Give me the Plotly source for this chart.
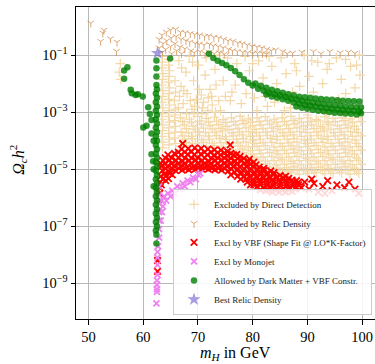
import plotly.graph_objects as go

# ---- data: [m_H in GeV, log10(Omega h^2)] ----
wheat_pts = [
    [55.8, -1.3], [55.6, -1.6], [55.9, -1.85],
    [63.5, -1.05], [63.5, -1.25], [63.4, -1.45], [63.6, -1.65], [63.5, -1.85], [63.4, -2.05], [63.6, -2.25],
    [63.5, -2.45], [63.4, -2.65], [63.6, -2.85], [63.5, -3.05], [63.4, -3.25], [63.6, -3.45], [63.5, -3.65],
    [63.4, -3.85], [63.6, -4.05], [63.5, -4.25],
    [64.7, -1.15], [64.6, -1.35], [64.8, -1.55], [64.7, -1.75], [64.6, -1.95], [64.8, -2.15], [64.7, -2.35],
    [64.6, -2.55], [64.8, -2.75], [64.7, -2.95], [64.6, -3.15], [64.8, -3.35], [64.7, -3.55], [64.6, -3.75],
    [64.8, -3.95], [64.7, -4.15],
    [65.8, -1.9], [65.9, -2.3], [65.7, -2.6], [65.9, -2.9], [65.8, -3.1], [65.7, -3.3], [65.9, -3.5],
    [65.8, -3.7], [65.7, -3.9], [65.9, -4.1],
    [66.6, -2.45], [67.4, -2.25], [68.6, -2.6], [69.4, -2.8], [70.2, -2.2], [71.0, -2.65], [71.8, -2.95],
    [66.4, -2.85], [67.9, -3.05], [69.3, -3.05], [70.7, -3.05], [72.5, -2.45], [73.2, -3.0],
    [66.5, -1.2], [67.8, -1.6], [66.9, -2.1], [68.4, -1.05], [69.2, -1.9], [70.1, -1.35], [70.6, -2.4],
    [71.3, -1.7], [72.2, -2.2], [73.1, -1.5], [73.8, -2.6], [74.6, -1.9], [75.4, -1.1], [76.2, -2.3],
    [77.1, -1.3], [77.9, -2.7], [78.6, -1.05], [79.4, -1.55], [80.3, -2.5], [81.1, -1.2], [81.9, -1.8],
    [82.7, -2.8], [83.5, -1.4], [84.4, -2.0], [85.2, -1.1], [86.1, -1.65], [86.9, -2.85], [87.7, -1.3],
    [88.6, -2.1], [89.4, -1.0], [90.3, -1.75], [91.1, -2.3], [91.9, -1.25], [92.8, -2.0], [93.6, -1.5],
    [94.5, -2.9], [95.3, -1.1], [96.2, -1.85], [97.0, -2.35], [97.9, -1.4], [98.7, -2.15], [99.5, -1.0],
    [99.6, -1.7], [67.3, -2.7], [68.9, -2.9], [70.8, -2.85], [72.6, -2.75], [74.1, -2.95], [75.9, -2.6],
    [68.0, -2.35], [69.7, -2.55], [71.9, -2.5], [73.3, -2.05], [75.0, -2.45], [76.8, -2.05], [78.8, -2.35],
    [80.8, -2.95], [82.3, -2.45], [84.0, -2.65], [85.8, -2.95], [87.3, -2.3], [89.8, -2.75], [92.2, -2.65],
    [95.7, -2.55], [98.2, -2.9], [67.0, -1.45], [69.0, -1.25], [71.5, -1.1], [74.0, -1.0], [80.0, -1.3],
    [83.0, -1.05], [88.0, -1.55], [90.8, -1.2], [94.0, -1.3], [97.0, -1.15], [99.0, -1.35], [96.5, -3.05],
    [93.5, -3.0], [90.0, -3.1],
    [66.8, -3.2], [68.4, -3.25], [69.9, -3.15], [71.5, -3.22], [73.0, -3.18], [74.6, -3.26], [76.1, -3.2],
    [77.7, -3.14], [79.2, -3.24], [80.8, -3.2], [82.3, -3.16], [83.9, -3.25], [85.4, -3.2], [87.0, -3.15],
    [88.5, -3.23], [90.1, -3.2], [91.6, -3.26], [93.2, -3.17], [94.7, -3.22], [96.3, -3.2], [97.8, -3.24],
    [99.4, -3.18],
    [67.2, -3.33], [68.8, -3.35], [70.3, -3.31], [71.9, -3.34], [73.4, -3.32], [75.0, -3.36], [76.5, -3.33],
    [78.1, -3.3], [79.6, -3.35], [81.2, -3.33], [82.7, -3.31], [84.3, -3.35], [85.8, -3.33], [87.4, -3.3],
    [88.9, -3.35], [90.5, -3.33], [92.0, -3.31], [93.6, -3.35], [95.1, -3.33], [96.7, -3.3], [98.2, -3.35],
    [99.8, -3.33],
    [67.5, -3.45], [69.1, -3.5], [70.6, -3.42], [72.2, -3.47], [73.8, -3.44], [75.3, -3.5], [76.9, -3.45],
    [78.4, -3.4], [80.0, -3.48], [81.5, -3.45], [83.1, -3.42], [84.6, -3.5], [86.2, -3.45], [87.7, -3.41],
    [89.3, -3.48], [90.8, -3.45], [92.4, -3.5], [93.9, -3.43], [95.5, -3.47], [97.0, -3.45], [98.6, -3.5],
    [67.9, -3.58], [69.5, -3.6], [71.0, -3.56], [72.6, -3.59], [74.2, -3.57], [75.7, -3.61], [77.3, -3.58],
    [78.8, -3.55], [80.4, -3.6], [81.9, -3.58], [83.5, -3.56], [85.0, -3.6], [86.6, -3.58], [88.1, -3.55],
    [89.7, -3.6], [91.2, -3.58], [92.8, -3.56], [94.3, -3.6], [95.9, -3.58], [97.4, -3.55], [99.0, -3.6],
    [66.9, -3.7], [68.3, -3.73], [70.0, -3.68], [71.4, -3.72], [73.1, -3.7], [74.5, -3.66], [76.2, -3.73],
    [77.6, -3.7], [79.3, -3.68], [80.7, -3.72], [82.4, -3.7], [83.8, -3.67], [85.5, -3.73], [86.9, -3.7],
    [88.6, -3.68], [90.0, -3.72], [91.7, -3.7], [93.1, -3.66], [94.8, -3.72], [96.2, -3.7], [97.9, -3.68],
    [99.3, -3.72],
    [67.2, -3.83], [68.8, -3.85], [70.3, -3.81], [71.9, -3.84], [73.4, -3.82], [75.0, -3.86], [76.5, -3.83],
    [78.1, -3.8], [79.6, -3.85], [81.2, -3.83], [82.7, -3.81], [84.3, -3.85], [85.8, -3.83], [87.4, -3.8],
    [88.9, -3.85], [90.5, -3.83], [92.0, -3.81], [93.6, -3.85], [95.1, -3.83], [96.7, -3.8], [98.2, -3.85],
    [99.8, -3.83],
    [67.6, -3.95], [69.0, -3.93], [70.7, -3.97], [72.1, -3.95], [73.9, -3.92], [75.2, -3.96], [77.0, -3.95],
    [78.3, -3.93], [80.1, -3.97], [81.4, -3.95], [83.2, -3.92], [84.5, -3.96], [86.3, -3.95], [87.6, -3.93],
    [89.4, -3.97], [90.7, -3.95], [92.5, -3.92], [93.8, -3.96], [95.6, -3.95], [96.9, -3.93], [98.7, -3.97],
    [67.9, -4.08], [69.5, -4.1], [71.0, -4.06], [72.6, -4.09], [74.2, -4.07], [75.7, -4.11], [77.3, -4.08],
    [78.8, -4.05], [80.4, -4.1], [81.9, -4.08], [83.5, -4.06], [85.0, -4.1], [86.6, -4.08], [88.1, -4.05],
    [89.7, -4.1], [91.2, -4.08], [92.8, -4.06], [94.3, -4.1], [95.9, -4.08], [97.4, -4.05], [99.0, -4.1],
    [66.8, -4.2], [68.4, -4.18], [69.9, -4.22], [71.5, -4.2], [73.0, -4.17], [74.6, -4.22], [76.1, -4.2],
    [77.7, -4.18], [79.2, -4.22], [80.8, -4.2], [82.3, -4.17], [83.9, -4.22], [85.4, -4.2], [87.0, -4.18],
    [88.5, -4.22], [90.1, -4.2], [91.6, -4.17], [93.2, -4.22], [94.7, -4.2], [96.3, -4.18], [97.8, -4.22],
    [99.4, -4.2],
    [76.5, -4.33], [78.1, -4.3], [79.6, -4.35], [81.2, -4.33], [82.7, -4.31], [84.3, -4.35], [85.8, -4.33],
    [87.4, -4.3], [88.9, -4.35], [90.5, -4.33], [92.0, -4.31], [93.6, -4.35], [95.1, -4.33], [96.7, -4.3],
    [98.2, -4.35], [99.8, -4.33],
    [76.9, -4.45], [78.4, -4.43], [80.0, -4.47], [81.5, -4.45], [83.1, -4.42], [84.6, -4.46], [86.2, -4.45],
    [87.7, -4.43], [89.3, -4.47], [90.8, -4.45], [92.4, -4.42], [93.9, -4.46], [95.5, -4.45], [97.0, -4.43],
    [98.6, -4.47],
    [78.8, -4.58], [80.4, -4.6], [81.9, -4.58], [83.5, -4.56], [85.0, -4.6], [86.6, -4.58], [88.1, -4.55],
    [89.7, -4.6], [91.2, -4.58], [92.8, -4.56], [94.3, -4.6], [95.9, -4.58], [97.4, -4.55], [99.0, -4.6],
    [79.2, -4.7], [80.8, -4.68], [82.3, -4.72], [83.9, -4.7], [85.4, -4.67], [87.0, -4.72], [88.5, -4.7],
    [90.1, -4.68], [91.6, -4.72], [93.2, -4.7], [94.7, -4.67], [96.3, -4.72], [97.8, -4.7], [99.4, -4.68],
    [81.2, -4.83], [82.7, -4.81], [84.3, -4.85], [85.8, -4.83], [87.4, -4.8], [88.9, -4.85], [90.5, -4.83],
    [92.0, -4.81], [93.6, -4.85], [95.1, -4.83], [96.7, -4.8], [98.2, -4.85], [99.8, -4.83],
    [81.5, -4.95], [83.1, -4.93], [84.6, -4.97], [86.2, -4.95], [87.7, -4.92], [89.3, -4.96], [90.8, -4.95],
    [92.4, -4.93], [93.9, -4.97], [95.5, -4.95], [97.0, -4.92], [98.6, -4.96],
    [85.0, -5.05], [86.6, -5.06], [88.1, -5.04], [89.7, -5.06], [91.2, -5.05], [92.8, -5.04], [94.3, -5.06],
    [95.9, -5.05], [97.4, -5.04], [99.0, -5.06],
    [85.4, -5.15], [87.0, -5.13], [88.5, -5.17], [90.1, -5.15], [91.6, -5.12], [93.2, -5.16], [94.7, -5.15],
    [96.3, -5.13], [97.8, -5.17], [99.4, -5.15],
]

relic_pts = [
    [50.4, 0.12], [52.6, -0.23], [52.8, -0.13], [52.2, -0.52], [54.0, -0.43], [55.2, -0.55], [55.1, -0.87],
    [62.9, -0.45], [62.9, -0.75], [63.4, -0.3], [63.6, -0.6], [63.5, -0.9],
    [64.2, -0.2], [64.3, -0.5], [64.1, -0.8],
    [65.0, -0.12], [65.1, -0.4], [65.0, -0.7], [65.2, -0.95],
    [65.9, -0.1], [66.0, -0.35], [65.8, -0.6], [66.1, -0.85],
    [66.8, -0.2], [66.9, -0.45], [66.7, -0.72], [67.0, -0.95],
    [67.7, -0.22], [67.8, -0.5], [67.6, -0.78],
    [68.6, -0.25], [68.5, -0.55], [68.7, -0.85],
    [69.4, -0.28], [69.5, -0.6], [69.3, -0.92],
    [70.3, -0.3], [70.2, -0.62], [70.4, -0.88],
    [71.2, -0.35], [71.1, -0.65], [71.3, -0.95],
    [72.0, -0.33], [72.1, -0.62], [72.0, -0.9],
    [72.9, -0.38], [72.8, -0.68], [73.0, -0.95],
    [73.8, -0.4], [73.7, -0.7], [73.9, -0.92],
    [74.7, -0.45], [74.6, -0.75], [74.8, -0.97],
    [75.5, -0.5], [75.6, -0.8], [76.4, -0.52], [76.3, -0.85],
    [77.3, -0.58], [77.2, -0.88], [78.1, -0.6], [78.2, -0.9],
    [79.0, -0.65], [79.1, -0.92], [79.9, -0.7], [80.0, -0.95],
    [80.8, -0.72], [80.9, -0.93], [81.7, -0.75], [81.8, -0.95],
    [82.6, -0.8], [82.5, -0.97], [83.4, -0.85],
    [84.2, -0.82], [85.5, -0.88], [86.3, -0.95], [87.3, -0.93], [89.0, -0.9], [91.1, -0.88],
    [92.5, -0.95], [94.1, -0.88], [96.0, -0.92], [97.5, -0.9], [98.7, -0.94],
]

vbf_pts = [
    [67.0, -4.3], [68.2, -4.28], [69.4, -4.25], [70.6, -4.27], [71.8, -4.3], [73.0, -4.32], [74.2, -4.33],
    [75.4, -4.38],
    [66.4, -4.4], [67.6, -4.4], [68.8, -4.38], [70.0, -4.37], [71.2, -4.4], [72.4, -4.4], [73.6, -4.42],
    [74.8, -4.43], [76.0, -4.45], [77.1, -4.48],
    [64.5, -4.5], [65.7, -4.45], [66.9, -4.5], [68.1, -4.48], [69.3, -4.5], [70.5, -4.47], [71.7, -4.5],
    [72.9, -4.52], [74.1, -4.5], [75.3, -4.53], [76.5, -4.5], [77.7, -4.55],
    [64.0, -4.6], [65.2, -4.6], [66.4, -4.6], [67.6, -4.6], [68.8, -4.6], [70.0, -4.6], [71.2, -4.6],
    [72.4, -4.6], [73.6, -4.6], [74.8, -4.6], [76.0, -4.62], [77.2, -4.62], [78.4, -4.62], [79.4, -4.65],
    [63.6, -4.7], [64.8, -4.68], [66.0, -4.7], [67.2, -4.72], [68.4, -4.7], [69.6, -4.68], [70.8, -4.7],
    [72.0, -4.73], [73.2, -4.7], [74.4, -4.68], [75.6, -4.7], [76.8, -4.72], [78.0, -4.7], [79.2, -4.73],
    [80.2, -4.75],
    [63.2, -4.8], [64.0, -4.8], [65.2, -4.8], [66.4, -4.8], [67.6, -4.8], [68.8, -4.8], [70.0, -4.8],
    [71.2, -4.8], [72.4, -4.8], [73.6, -4.8], [74.8, -4.8], [76.0, -4.8], [77.2, -4.8], [78.4, -4.8],
    [79.6, -4.82], [80.6, -4.85],
    [63.3, -4.9], [64.4, -4.9], [65.6, -4.88], [66.8, -4.9], [68.0, -4.92], [69.2, -4.9], [70.4, -4.88],
    [71.6, -4.9], [72.8, -4.92], [74.0, -4.9], [75.2, -4.88], [76.4, -4.9], [77.6, -4.92], [78.8, -4.9],
    [80.0, -4.9], [81.2, -4.93], [82.0, -4.97],
    [64.1, -4.98], [65.3, -4.98], [66.5, -4.97], [67.7, -4.97], [68.9, -4.96], [70.1, -4.95], [71.3, -4.95],
    [72.5, -4.96], [73.7, -4.97], [74.9, -4.98], [76.1, -5.0], [77.3, -5.0], [78.5, -5.0], [79.7, -5.0],
    [80.9, -5.02], [82.1, -5.04], [83.3, -5.06],
    [63.5, -5.05], [64.7, -5.07], [65.9, -5.05], [67.1, -5.03], [68.3, -5.02], [69.5, -5.0], [70.7, -5.0],
    [71.9, -5.0], [73.1, -5.02], [74.3, -5.03], [75.5, -5.07], [76.7, -5.1], [77.9, -5.1], [79.1, -5.1],
    [80.3, -5.1], [81.5, -5.1], [82.7, -5.12], [83.9, -5.12],
    [63.8, -5.17], [64.9, -5.15], [77.8, -5.17], [79.0, -5.18], [80.2, -5.18], [81.4, -5.2], [82.6, -5.2],
    [83.8, -5.2], [85.0, -5.22], [86.0, -5.25],
    [63.2, -5.25], [64.2, -5.22], [65.3, -5.2], [76.0, -5.2], [77.2, -5.25], [78.4, -5.27], [79.6, -5.27],
    [80.8, -5.27], [82.0, -5.28], [83.2, -5.28], [84.4, -5.28], [85.6, -5.3], [86.6, -5.32],
    [63.6, -5.35], [64.6, -5.33], [78.8, -5.35], [80.0, -5.36], [81.2, -5.37], [82.4, -5.37], [83.6, -5.37],
    [84.8, -5.38], [86.0, -5.38], [87.2, -5.38], [88.0, -5.4],
    [63.1, -5.45], [64.1, -5.4], [77.8, -5.35], [79.0, -5.45], [80.2, -5.45], [81.4, -5.45], [82.6, -5.45],
    [83.8, -5.47], [85.0, -5.47], [86.2, -5.47], [87.4, -5.45], [88.4, -5.45],
    [63.3, -5.55], [80.2, -5.55], [81.4, -5.55], [82.6, -5.56], [83.8, -5.57], [85.0, -5.57], [86.2, -5.56],
    [87.4, -5.55], [88.4, -5.55],
    [63.0, -5.65], [79.6, -5.55], [80.8, -5.62], [82.0, -5.65], [83.2, -5.65], [84.4, -5.67], [85.6, -5.67],
    [86.8, -5.65], [88.0, -5.62],
    [81.4, -5.72], [82.8, -5.72], [84.2, -5.74], [85.4, -5.74], [86.6, -5.72], [87.8, -5.7],
    [63.0, -5.85], [82.4, -5.75], [83.6, -5.8], [84.8, -5.8], [86.0, -5.8], [87.2, -5.78],
    [89.5, -5.45], [90.3, -5.7], [91.2, -5.5], [92.0, -5.8], [92.8, -5.6], [93.7, -5.4], [94.5, -5.75],
    [95.4, -5.55], [96.8, -5.65], [97.6, -5.45], [98.7, -5.7], [99.4, -5.85], [90.8, -5.35], [93.2, -5.85],
    [88.9, -5.65],
    [75.9, -4.15], [67.2, -4.1], [63.0, -6.2], [62.6, -8.2], [62.6, -8.58],
]

monojet_pts = [
    [62.9, -5.6], [62.9, -5.9], [62.9, -6.2], [62.9, -6.5], [62.9, -6.8], [62.9, -7.1], [62.9, -7.4],
    [62.7, -7.7], [62.6, -7.9], [62.6, -8.1], [62.6, -8.35], [62.6, -8.7], [62.5, -8.9], [62.5, -9.05],
    [62.5, -9.2], [62.5, -9.3], [62.4, -9.7],
    [63.3, -6.1], [63.6, -6.3], [63.8, -5.95], [64.2, -6.1], [64.5, -5.85], [65.0, -5.95], [65.3, -5.75],
    [65.8, -5.85], [66.2, -5.6], [66.7, -5.7], [67.2, -5.5], [67.6, -5.6], [68.1, -5.4], [68.6, -5.45],
    [69.1, -5.3], [69.6, -5.35], [70.1, -5.2], [70.4, -5.15], [63.4, -6.5], [63.2, -6.8],
]

allowed_pts = [
    [62.4, -1.19], [62.4, -1.46], [62.4, -1.75], [62.4, -2.05], [62.5, -2.2], [62.3, -2.35], [62.5, -2.5],
    [62.3, -2.65], [62.5, -2.8], [62.3, -2.95], [62.5, -3.1], [62.3, -3.25], [62.5, -3.4], [62.3, -3.55],
    [62.5, -3.7], [62.3, -3.85], [62.5, -4.0], [62.3, -4.15], [62.5, -4.3], [62.3, -4.45], [62.5, -4.6],
    [62.3, -4.75], [62.5, -4.9], [62.3, -5.05], [62.5, -5.2], [62.3, -5.35], [62.5, -5.5], [62.3, -5.65],
    [62.5, -5.8], [62.3, -5.95], [62.5, -6.1], [62.3, -6.25], [62.5, -6.4], [62.3, -6.55], [62.5, -6.7],
    [62.3, -6.85], [62.5, -7.0], [62.3, -7.15], [62.4, -7.3], [62.4, -7.6],
    [64.9, -1.12], [57.1, -1.43], [56.5, -1.54], [56.5, -1.83], [57.7, -2.22], [57.9, -2.34], [58.6, -2.40],
    [59.0, -2.37], [59.9, -2.45], [60.9, -2.83], [61.2, -3.07], [61.5, -3.28], [60.0, -3.54], [60.6, -3.48],
    [61.5, -3.75], [61.9, -4.0], [61.5, -4.48], [61.8, -4.72], [61.9, -5.0], [61.9, -5.6],
    [72.0, -0.95], [72.8, -1.1], [73.6, -1.2], [74.4, -1.28], [75.2, -1.36], [76.0, -1.45], [76.8, -1.57],
    [77.6, -1.7], [78.4, -1.85], [79.2, -1.97], [80.0, -2.07], [81.0, -2.18], [82.0, -2.25], [83.0, -2.32],
    [84.0, -2.37], [85.0, -2.42], [86.0, -2.47], [87.0, -2.52], [88.0, -2.56], [89.0, -2.6], [90.0, -2.64],
    [91.0, -2.67], [92.0, -2.7], [93.0, -2.72], [94.0, -2.74], [95.0, -2.76], [96.0, -2.78], [97.0, -2.8],
    [98.0, -2.81], [99.0, -2.83], [99.8, -2.84],
    [80.5, -2.0], [81.5, -2.08], [82.5, -2.15], [83.5, -2.22], [84.5, -2.27], [85.5, -2.32], [86.5, -2.37],
    [87.5, -2.41], [88.5, -2.46], [89.5, -2.48], [90.5, -2.5], [91.5, -2.52], [92.5, -2.54], [93.5, -2.56],
    [94.5, -2.57], [95.5, -2.58], [96.5, -2.6], [97.5, -2.61], [98.5, -2.62], [99.5, -2.63],
    [82.5, -2.38], [83.5, -2.45], [84.5, -2.5], [85.5, -2.55], [86.5, -2.6], [87.5, -2.66], [88.5, -2.7],
    [89.5, -2.74], [90.5, -2.78], [91.5, -2.8], [92.5, -2.84], [93.5, -2.86], [94.5, -2.88], [95.5, -2.9],
    [96.5, -2.92], [97.5, -2.94], [98.5, -2.96], [99.5, -2.98],
    [88.0, -2.8], [89.0, -2.85], [90.0, -2.88], [91.0, -2.92], [92.0, -2.95], [93.0, -2.97], [94.0, -3.0],
    [95.0, -3.02], [96.0, -3.03], [97.0, -3.05], [98.0, -3.06], [99.0, -3.08], [99.8, -3.04],
]

best_pts = [[62.6, -0.93]]

y_tick_exp = [-9, -7, -5, -3, -1]
x_ticks = [50, 60, 70, 80, 90, 100]

names = [
    "Excluded by Direct Detection",
    "Excluded by Relic Density",
    "Excl by VBF (Shape Fit @ LO*K-Factor)",
    "Excl by Monojet",
    "Allowed by Dark Matter + VBF Constr.",
    "Best Relic Density",
]
x_title = "<i>m</i><sub><i>H</i></sub> in GeV"
y_title = "<i>\u03a9<sub>c</sub>h</i><sup>2</sup>"


def xs(p):
    return [a for a, b in p]


def ys(p):
    return [10 ** b for a, b in p]


fig = go.Figure()
fig.add_trace(go.Scatter(
    x=xs(wheat_pts), y=ys(wheat_pts), mode="markers", name=names[0],
    marker=dict(symbol="cross-thin", size=7, color="#f5deb3", line=dict(width=1.2, color="#f3d8a8"))))
fig.add_trace(go.Scatter(
    x=xs(relic_pts), y=ys(relic_pts), mode="markers", name=names[1],
    marker=dict(symbol="y-down", size=5.5, color="rgba(205,133,63,0.7)",
                line=dict(width=1, color="rgba(205,133,63,0.7)"))))
fig.add_trace(go.Scatter(
    x=xs(vbf_pts), y=ys(vbf_pts), mode="markers", name=names[2],
    marker=dict(symbol="x-thin", size=6.5, color="red", line=dict(width=1.8, color="red"))))
fig.add_trace(go.Scatter(
    x=xs(monojet_pts), y=ys(monojet_pts), mode="markers", name=names[3],
    marker=dict(symbol="x-thin", size=6, color="violet", line=dict(width=1.8, color="violet"))))
fig.add_trace(go.Scatter(
    x=xs(allowed_pts), y=ys(allowed_pts), mode="markers", name=names[4],
    marker=dict(symbol="circle", size=6.5, color="rgba(0,128,0,0.8)", line=dict(width=0))))
fig.add_trace(go.Scatter(
    x=xs(best_pts), y=ys(best_pts), mode="markers", name=names[5],
    marker=dict(symbol="star", size=10, color="rgba(106,90,205,0.6)", line=dict(width=0))))

serif = "Liberation Serif"
fig.update_layout(
    width=375, height=364,
    margin=dict(l=76, r=0, t=7, b=45),
    plot_bgcolor="white", paper_bgcolor="white",
    font=dict(family=serif, size=14.5, color="black"),
    showlegend=True,
    legend=dict(x=0.99, y=0.013, xanchor="right", yanchor="bottom",
                bgcolor="rgba(255,255,255,0.85)", bordercolor="#cccccc", borderwidth=1,
                font=dict(family=serif, size=9, color="#222222"), itemwidth=30),
    annotations=[
        dict(text=x_title, xref="paper", yref="paper", x=0.535, y=-0.112, xanchor="center",
             yanchor="middle", showarrow=False, font=dict(family=serif, size=16, color="black")),
        dict(text=y_title, xref="paper", yref="paper", x=-0.194, y=0.51, xanchor="center",
             yanchor="middle", textangle=-90, showarrow=False,
             font=dict(family=serif, size=16, color="black")),
    ],
)
fig.update_xaxes(
    range=[47.7, 102.36], tickvals=x_ticks, ticktext=[str(v) for v in x_ticks],
    showgrid=True, gridcolor="#b8b8b8", gridwidth=1, zeroline=False,
    showline=True, linecolor="black", linewidth=1, mirror=True,
    ticks="outside", ticklen=4.5, tickwidth=1, tickcolor="black",
)
fig.update_yaxes(
    type="log", range=[-10.25, 0.684],
    tickvals=[10 ** e for e in y_tick_exp],
    ticktext=["10<sup>\u2212%d</sup>" % (-e) for e in y_tick_exp],
    showgrid=True, gridcolor="#b8b8b8", gridwidth=1, zeroline=False,
    showline=True, linecolor="black", linewidth=1, mirror=True,
    ticks="outside", ticklen=4.5, tickwidth=1, tickcolor="black",
)

fig.write_html("out.html", config={"displayModeBar": False},
               post_script="document.body.style.margin='0px';")
